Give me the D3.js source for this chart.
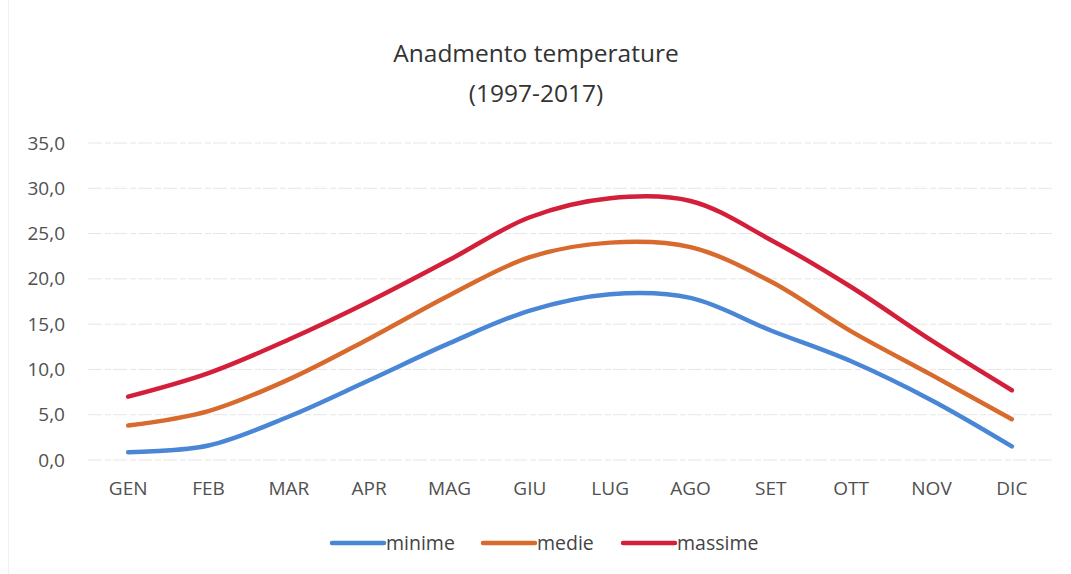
<!DOCTYPE html>
<html>
<head>
<meta charset="utf-8">
<script src="https://cdn.jsdelivr.net/npm/d3@7"></script>
<style>
  body { margin: 0; background: #fff; }
  svg text { font-family: "Open Sans", "Noto Sans", sans-serif; fill: #404040; }
</style>
</head>
<body>
<div id="chart"></div>
<script>
const months = ["GEN", "FEB", "MAR", "APR", "MAG", "GIU", "LUG", "AGO", "SET", "OTT", "NOV", "DIC"];
const minime = [0.85, 1.6, 4.8, 8.8, 12.9, 16.5, 18.3, 17.9, 14.3, 10.9, 6.6, 1.5];
const medie = [3.8, 5.4, 8.9, 13.4, 18.2, 22.4, 24.0, 23.5, 19.7, 14.2, 9.4, 4.5];
const massime = [7.0, 9.6, 13.3, 17.5, 22.1, 26.8, 28.9, 28.6, 24.3, 19.1, 13.2, 7.7];
const yTicks = [0, 5, 10, 15, 20, 25, 30, 35];

const series = [
    { name: "minime", values: minime, color: "#4a86d6" },
    { name: "medie", values: medie, color: "#d96a2e" },
    { name: "massime", values: massime, color: "#d41f3a" }
];

const width = 1071, height = 574;
const margin = { top: 143, right: 20, bottom: 114, left: 88 };
const innerW = 964;
const innerH = height - margin.top - margin.bottom;

const svg = d3.select("#chart").append("svg")
    .attr("width", width)
    .attr("height", height);

// faint left edge of the scanned chart frame
svg.append("line")
    .attr("x1", 8.5).attr("x2", 8.5)
    .attr("y1", 0).attr("y2", height)
    .attr("stroke", "#f0f0f0");

svg.append("text")
    .attr("x", 536).attr("y", 62)
    .attr("text-anchor", "middle")
    .style("font-size", "24.5px")
    .style("fill", "#333")
    .text("Anadmento temperature");
svg.append("text")
    .attr("x", 536).attr("y", 102)
    .attr("text-anchor", "middle")
    .style("font-size", "24.5px")
    .style("fill", "#333")
    .text("(1997-2017)");

const g = svg.append("g").attr("transform", `translate(${margin.left},${margin.top})`);

const x = d3.scaleBand().domain(months).range([0, innerW]);
const y = d3.scaleLinear().domain([0, 35]).range([innerH, 0]);

// gridlines
g.append("g")
    .selectAll("line")
    .data(yTicks)
    .join("line")
    .attr("x1", 0).attr("x2", innerW)
    .attr("y1", d => y(d)).attr("y2", d => y(d))
    .attr("stroke", "#e6e6e6")
    .attr("stroke-width", 1)
    .attr("stroke-dasharray", "14 3 6 2");

const fmt = d => d3.format(".1f")(d).replace(".", ",");

const yAxis = g.append("g")
    .call(d3.axisLeft(y).tickValues(yTicks).tickFormat(fmt).tickSize(0).tickPadding(23));
yAxis.select(".domain").remove();
yAxis.selectAll("text").style("font-size", "19px").style("fill", "#505050").style("font-family", "\"Open Sans\", sans-serif");

const xAxis = g.append("g")
    .attr("transform", `translate(0,${innerH})`)
    .call(d3.axisBottom(x).tickSize(0).tickPadding(22));
xAxis.select(".domain").remove();
xAxis.selectAll("text").style("font-size", "19px").style("fill", "#505050").style("font-family", "\"Open Sans\", sans-serif");

const line = d3.line()
    .x((d, i) => x(months[i]) + x.bandwidth() / 2)
    .y(d => y(d))
    .curve(d3.curveCatmullRom.alpha(0.5));

g.selectAll("path.series")
    .data(series)
    .join("path")
    .attr("class", "series")
    .attr("d", d => line(d.values))
    .attr("fill", "none")
    .attr("stroke", d => d.color)
    .attr("stroke-width", 4.5)
    .attr("stroke-linecap", "round");

// legend
const legendX = [332, 483, 623];
const legend = svg.append("g").attr("transform", "translate(0,543)");
const items = legend.selectAll("g")
    .data(series)
    .join("g")
    .attr("transform", (d, i) => `translate(${legendX[i]},0)`);
items.append("line")
    .attr("x1", 0).attr("x2", 52)
    .attr("stroke", d => d.color)
    .attr("stroke-width", 4.5)
    .attr("stroke-linecap", "round");
items.append("text")
    .attr("x", 54)
    .attr("dy", "0.35em")
    .style("font-size", "19.5px")
    .style("fill", "#444")
    .text(d => d.name);
</script>
</body>
</html>
